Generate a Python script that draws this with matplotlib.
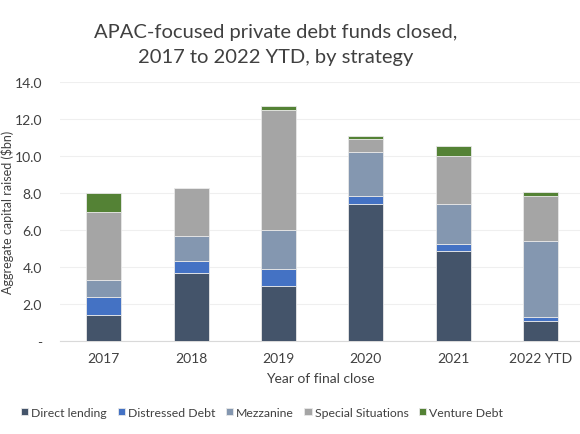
import numpy as np
import matplotlib
matplotlib.use('Agg')
import matplotlib.pyplot as plt
from matplotlib.ticker import FuncFormatter

plt.rcParams['font.family'] = ['Lato', 'DejaVu Sans']

years = ['2017', '2018', '2019', '2020', '2021', '2022 YTD']
direct_lending = [1.40, 3.65, 2.95, 7.40, 4.85, 1.10]
distressed_debt = [1.00, 0.65, 0.95, 0.45, 0.37, 0.18]
mezzanine = [0.90, 1.35, 2.10, 2.35, 2.20, 4.10]
special_situations = [3.70, 2.60, 6.50, 0.72, 2.60, 2.48]
venture_debt = [1.00, 0.00, 0.18, 0.15, 0.50, 0.18]

series = [
    ('Direct lending', direct_lending, '#44546A'),
    ('Distressed Debt', distressed_debt, '#4472C4'),
    ('Mezzanine', mezzanine, '#8497B0'),
    ('Special Situations', special_situations, '#A5A5A5'),
    ('Venture Debt', venture_debt, '#548235'),
]

fig = plt.figure(figsize=(5.8, 4.35), dpi=100)
ax = fig.add_axes([60/580, 1 - 342/435, 520/580, (342 - 83)/435])

x = np.arange(len(years))
bottom = np.zeros(len(years))
for name, vals, col in series:
    ax.bar(x, vals, 0.4, bottom=bottom, color=col, label=name,
           edgecolor='#e8e8e8', linewidth=0.6, zorder=3)
    bottom += np.array(vals)

ax.set_ylim(0, 14)
ax.set_yticks(np.arange(0, 14.1, 2))
ax.yaxis.set_major_formatter(FuncFormatter(lambda v, p: '-' if v == 0 else f'{v:.1f}'))
ax.set_xticks(x)
ax.set_xticklabels(years)
ax.set_xlim(-0.5, 5.45)
ax.grid(axis='y', color='#efefef', linewidth=0.8, zorder=0)
for s in ['top', 'right', 'left']:
    ax.spines[s].set_visible(False)
ax.spines['bottom'].set_color('#d9d9d9')
ax.tick_params(length=0, labelsize=10, colors='#404040', pad=8)
ax.tick_params(axis='y', pad=13)

ax.set_xlabel('Year of final close', fontsize=10, color='#404040', labelpad=6)
ax.set_ylabel('Aggregate capital raised ($bn)', fontsize=9, color='#404040')
ax.yaxis.set_label_coords(-0.088, 0.5)

fig.text(0.476, 0.897, 'APAC-focused private debt funds closed,\n2017 to 2022 YTD, by strategy',
         ha='center', va='center', fontsize=14.5, color='#404040', linespacing=1.55)

fig.legend(loc='center', bbox_to_anchor=(0.452, 0.05), ncol=5, frameon=False,
           fontsize=8.8, handlelength=0.6, handleheight=0.6, handletextpad=0.25,
           columnspacing=0.85, labelcolor='#404040')

fig.savefig('out.png', dpi=100)
